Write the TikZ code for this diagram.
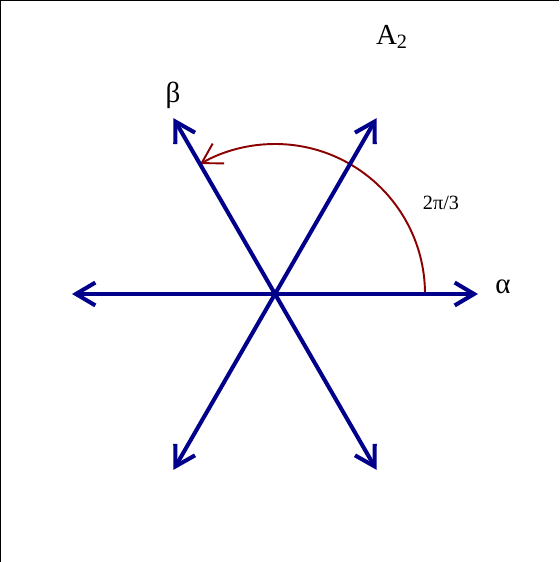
\documentclass[tikz,border=0pt]{standalone}
\usepackage{fontspec}
\setmainfont{Liberation Serif}
\usetikzlibrary{arrows.meta}
\definecolor{rootblue}{HTML}{00008B}
\definecolor{anglered}{HTML}{8B0000}

\begin{document}
\begin{tikzpicture}[
        root/.style={draw=rootblue, line width=2.3pt,
                     -{Straight Barb[length=11pt, width=13pt]}},
        angle/.style={draw=anglered, line width=1.1pt,
                      -{Straight Barb[length=11pt, width=13pt]}},
        lbl/.style={font=\fontsize{16.5}{20}\selectfont, inner sep=0pt}
    ]
    \useasboundingbox[fill=white] (-5.5,-5.36) rectangle (5.68,5.88);
    % frame edges
    \draw[line width=0.6pt] (-5.5,-5.36) -- (-5.5,5.88) -- (5.68,5.88);

    % roots of A2
    \coordinate (O) at (0,0);
    \foreach \n/\a in {r1/0, r2/60, r3/120, r4/180, r5/240, r6/300}
        \coordinate (\n) at (\a:4.06);
    \coordinate (arcstart) at (0:3);

    % angle between simple roots
    \draw[angle] (arcstart) arc[start angle=0, end angle=120, radius=3];

    \foreach \n in {r1, r2, r3, r4, r5, r6}
        \draw[root] (O) -- (\n);

    % labels
    \node[lbl]                  (alpha) at (4.56,0.14)  {α};
    \node[lbl]                  (beta)  at (-2.04,3.98) {β};
    \node[lbl]                  (name)  at (2.34,5.14)  {A\textsubscript{2}};
    \node[lbl, font=\fontsize{11.5}{14}\selectfont] (ang) at (3.32,1.82) {2π/3};
\end{tikzpicture}
\end{document}
